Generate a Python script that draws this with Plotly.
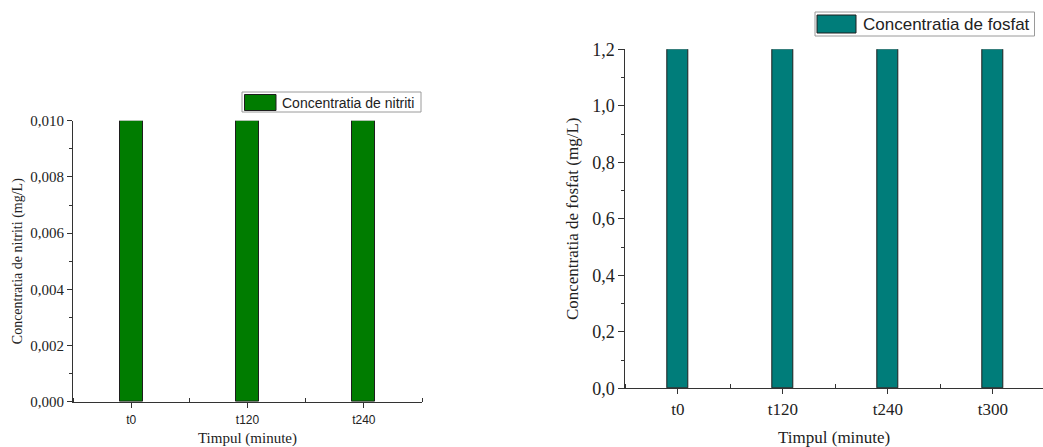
import plotly.graph_objects as go

# ---------------- data ----------------
nitrit_categories = ["t0", "t120", "t240"]
nitrit_values = [0.010, 0.010, 0.010]
nitrit_name = "Concentratia de nitriti"

fosfat_categories = ["t0", "t120", "t240", "t300"]
fosfat_values = [1.2, 1.2, 1.2, 1.2]
fosfat_name = "Concentratia de fosfat"

x_title = "Timpul (minute)"
nitrit_y_title = "Concentratia de nitriti (mg/L)"
fosfat_y_title = "Concentratia de fosfat (mg/L)"

# ---------------- style ----------------
W, H = 1043, 447
GREEN = "#007c00"
TEAL = "#007d7a"
EDGE = "#1e1e1e"
AXIS = "#333333"
SERIF = "Liberation Serif"
SANS = "Liberation Sans"


def px(x):
    return x / W


def py(y):
    return 1 - y / H


nit_pos = list(range(len(nitrit_categories)))
fos_pos = list(range(len(fosfat_categories)))

fig = go.Figure()
fig.add_trace(go.Bar(
    x=nit_pos, y=nitrit_values, name=nitrit_name, width=0.2,
    marker=dict(color=GREEN, line=dict(color=EDGE, width=1)),
    xaxis="x", yaxis="y", showlegend=False,
))
fig.add_trace(go.Bar(
    x=fos_pos, y=fosfat_values, name=fosfat_name, width=0.2,
    marker=dict(color=TEAL, line=dict(color=EDGE, width=1)),
    xaxis="x2", yaxis="y2", showlegend=False,
))

common_axis = dict(showline=True, linecolor=AXIS, linewidth=1, showgrid=False,
                   zeroline=False, tickcolor=AXIS, ticks="outside", automargin=False)

fig.update_layout(
    width=W, height=H,
    margin=dict(l=0, r=0, t=0, b=0),
    paper_bgcolor="white", plot_bgcolor="white",
    separators=",.",
    font=dict(family=SERIF, color="#222222"),
    bargap=0,
    xaxis=dict(
        **common_axis,
        domain=[px(73), px(422)], anchor="y",
        range=[-0.5, len(nitrit_categories) - 0.5],
        tickmode="array", tickvals=nit_pos, ticktext=nitrit_categories,
        ticklen=5, ticklabelstandoff=2,
        tickfont=dict(family=SANS, size=12, color="#222222"),
        minor=dict(tickmode="linear", tick0=0.5, dtick=1, ticks="inside",
                   ticklen=4, tickcolor=AXIS),
        title=dict(text=x_title, font=dict(family=SERIF, size=15), standoff=8),
    ),
    yaxis=dict(
        **common_axis,
        domain=[py(401.7), py(120.7)], anchor="x",
        range=[0, 0.0100001], tickmode="linear", tick0=0, dtick=0.002,
        tickformat=".3f", ticklen=5,
        tickfont=dict(family=SERIF, size=15, color="#222222"),
        minor=dict(tickmode="linear", tick0=0, dtick=0.001, ticks="outside",
                   ticklen=3, tickcolor=AXIS),
        title=dict(text=nitrit_y_title, font=dict(family=SERIF, size=14), standoff=4),
    ),
    xaxis2=dict(
        **common_axis,
        domain=[px(625.3), 1], anchor="y2",
        range=[-0.5, 3.478],
        tickmode="array", tickvals=fos_pos, ticktext=fosfat_categories,
        ticklen=5, tickfont=dict(family=SERIF, size=17, color="#222222"),
        minor=dict(tickmode="linear", tick0=0.5, dtick=1, ticks="inside",
                   ticklen=4, tickcolor=AXIS),
        title=dict(text=x_title, font=dict(family=SERIF, size=17), standoff=15),
    ),
    yaxis2=dict(
        **common_axis,
        domain=[py(388.3), py(49.3)], anchor="x2",
        range=[0, 1.20001], tickmode="linear", tick0=0, dtick=0.2,
        tickformat=".1f", ticklen=6,
        tickfont=dict(family=SERIF, size=18, color="#222222"),
        minor=dict(tickmode="linear", tick0=0, dtick=0.1, ticks="outside",
                   ticklen=3, tickcolor=AXIS),
        title=dict(text=fosfat_y_title, font=dict(family=SERIF, size=17), standoff=9),
    ),
)

# ---------------- legend boxes (drawn) ----------------
shapes = [
    dict(type="rect", xref="paper", yref="paper", x0=px(242), x1=px(421),
         y0=py(112), y1=py(92), line=dict(color="#9a9a9a", width=1), fillcolor="white"),
    dict(type="rect", xref="paper", yref="paper", x0=px(244.5), x1=px(276),
         y0=py(110.5), y1=py(94.5), line=dict(color=EDGE, width=1), fillcolor=GREEN),
    dict(type="rect", xref="paper", yref="paper", x0=px(815), x1=px(1034.5),
         y0=py(36), y1=py(12), line=dict(color="#9a9a9a", width=1), fillcolor="white"),
    dict(type="rect", xref="paper", yref="paper", x0=px(817), x1=px(856),
         y0=py(33), y1=py(15), line=dict(color=EDGE, width=1), fillcolor=TEAL),
]
annotations = [
    dict(text=nitrit_name, xref="paper", yref="paper", x=px(280), y=py(102.5),
         xanchor="left", yanchor="middle", showarrow=False,
         font=dict(family=SANS, size=14, color="#222222")),
    dict(text=fosfat_name, xref="paper", yref="paper", x=px(860.5), y=py(24.5),
         xanchor="left", yanchor="middle", showarrow=False,
         font=dict(family=SANS, size=17, color="#222222")),
]
fig.update_layout(shapes=shapes, annotations=annotations)

fig.write_html("out.html")
